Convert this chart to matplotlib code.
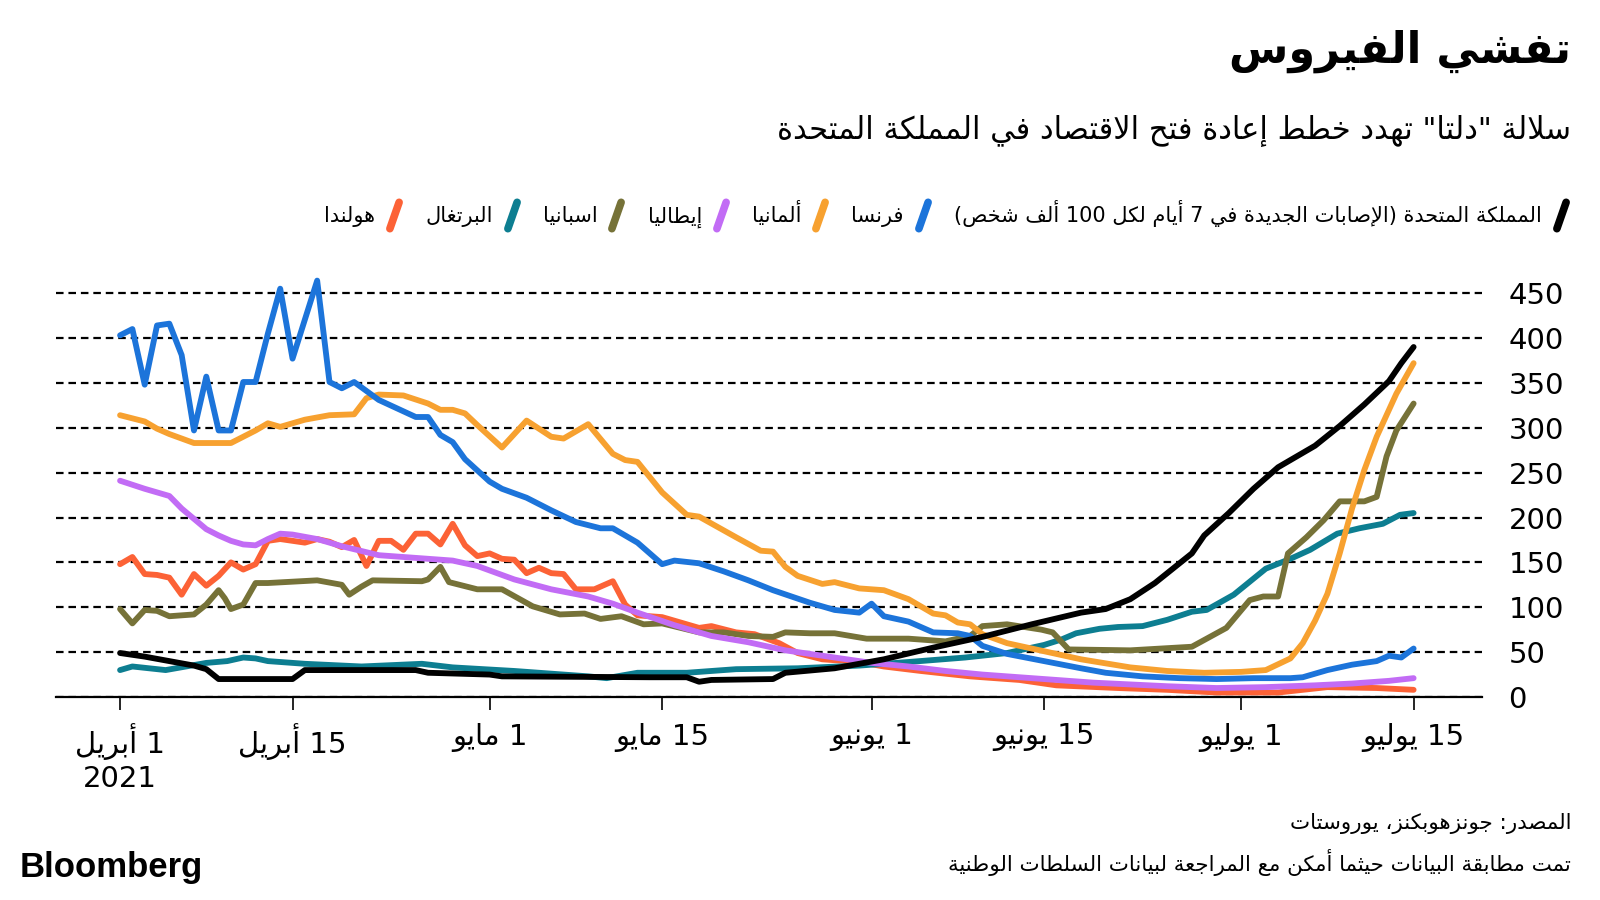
import re
import numpy as np
import pandas as pd
import matplotlib
matplotlib.use("Agg")
from matplotlib import pyplot as plt
from matplotlib.lines import Line2D
from matplotlib.markers import MarkerStyle
from matplotlib.path import Path

# matplotlib does no Arabic shaping, so map letters to presentation forms
# and put them in visual (right to left) order ourselves
RIGHT_JOIN = {'\u0622': 0xFE81, '\u0623': 0xFE83, '\u0624': 0xFE85, '\u0625': 0xFE87,
              '\u0627': 0xFE8D, '\u0629': 0xFE93, '\u062F': 0xFEA9, '\u0630': 0xFEAB,
              '\u0631': 0xFEAD, '\u0632': 0xFEAF, '\u0648': 0xFEED, '\u0649': 0xFEEF}
DUAL_JOIN = {'\u0626': 0xFE89, '\u0628': 0xFE8F, '\u062A': 0xFE95, '\u062B': 0xFE99,
             '\u062C': 0xFE9D, '\u062D': 0xFEA1, '\u062E': 0xFEA5, '\u0633': 0xFEB1,
             '\u0634': 0xFEB5, '\u0635': 0xFEB9, '\u0636': 0xFEBD, '\u0637': 0xFEC1,
             '\u0638': 0xFEC5, '\u0639': 0xFEC9, '\u063A': 0xFECD, '\u0641': 0xFED1,
             '\u0642': 0xFED5, '\u0643': 0xFED9, '\u0644': 0xFEDD, '\u0645': 0xFEE1,
             '\u0646': 0xFEE5, '\u0647': 0xFEE9, '\u064A': 0xFEF1}
LAM_ALEF = {'\u0622': 0xFEF5, '\u0623': 0xFEF7, '\u0625': 0xFEF9, '\u0627': 0xFEFB}
MIRROR = {'(': ')', ')': '('}


def shape_line(text):
    tokens = []
    i = 0
    while i < len(text):
        ch = text[i]
        if ch == '\u0644' and i + 1 < len(text) and text[i + 1] in LAM_ALEF:
            tokens.append(('LA', text[i + 1]))
            i += 2
        else:
            tokens.append(('CH', ch))
            i += 1

    def joinable(t):
        return t[0] == 'LA' or t[1] in RIGHT_JOIN or t[1] in DUAL_JOIN

    def dual(t):
        return t[0] == 'CH' and t[1] in DUAL_JOIN

    out = []
    for k, t in enumerate(tokens):
        prev_ok = k > 0 and dual(tokens[k - 1]) and joinable(t)
        next_ok = dual(t) and k + 1 < len(tokens) and joinable(tokens[k + 1])
        if t[0] == 'LA':
            out.append(chr(LAM_ALEF[t[1]] + int(prev_ok)))
        elif t[1] in DUAL_JOIN:
            if prev_ok and next_ok:
                off = 3
            elif prev_ok:
                off = 1
            elif next_ok:
                off = 2
            else:
                off = 0
            out.append(chr(DUAL_JOIN[t[1]] + off))
        elif t[1] in RIGHT_JOIN:
            out.append(chr(RIGHT_JOIN[t[1]] + int(prev_ok)))
        else:
            out.append(t[1])
    s = ''.join(out)
    parts = re.split(r'([0-9A-Za-z]+)', s)
    vis = []
    for p in reversed(parts):
        if re.fullmatch(r'[0-9A-Za-z]+', p):
            vis.append(p)
        else:
            vis.append(''.join(MIRROR.get(c, c) for c in reversed(p)))
    return ''.join(vis)


def ar(text):
    return '\n'.join(shape_line(l) for l in text.split('\n'))


# ---- data: days after 1 April 2021, new cases in 7 days per 100k ----
uk_days = [0, 2, 4, 6, 7, 8, 14, 15, 24, 25, 30, 31, 43, 46, 47, 48, 53, 54, 58, 62, 66, 70,
           74, 78, 80, 82, 84, 85, 87, 88, 90, 92, 94, 95, 97, 99, 101, 103, 104, 105]
uk_vals = [49, 45, 40, 35, 31, 20, 20, 30, 30, 27, 25, 23, 22, 22, 17, 19, 20, 27, 32, 42, 55, 67,
           81, 94, 98, 109, 127, 138, 160, 180, 205, 232, 256, 264, 280, 302, 326, 352, 372, 390]

fr_days = [0, 1, 2, 3, 4, 5, 6, 7, 8, 9, 10, 11, 12, 13, 14, 16, 17, 18, 19, 21, 24, 25, 26, 27,
           28, 30, 31, 33, 35, 37, 39, 40, 42, 44, 45, 47, 49, 51, 53, 56, 58, 60, 61, 62, 64, 66,
           68, 69, 70, 72, 75, 78, 80, 83, 86, 89, 92, 95, 96, 98, 100, 102, 103, 104, 105]
fr_vals = [403, 410, 348, 414, 416, 381, 297, 357, 297, 297, 351, 351, 405, 455, 377, 464, 351,
           344, 351, 331, 312, 312, 292, 284, 265, 240, 232, 222, 208, 195, 188, 188, 172, 148,
           152, 149, 140, 130, 119, 105, 97, 94, 104, 90, 84, 72, 71, 68, 57, 48, 40, 32, 27, 23,
           21, 20, 21, 21, 22, 30, 36, 40, 46, 44, 54]

de_days = [0, 2, 3, 4, 5, 6, 8, 9, 10, 11, 12, 13, 15, 17, 19, 20, 21, 23, 25, 26, 27, 28, 29,
           31, 33, 35, 36, 38, 40, 41, 42, 44, 46, 47, 50, 52, 53, 54, 55, 57, 58, 60, 62, 64,
           66, 67, 68, 69, 70, 72, 75, 78, 82, 85, 88, 91, 93, 95, 96, 97, 98, 99, 100, 101,
           102, 103.6, 105]
de_vals = [314, 307, 299, 293, 288, 283, 283, 283, 290, 297, 305, 301, 309, 314, 315, 333, 337,
           336, 327, 320, 320, 316, 303, 278, 308, 290, 288, 304, 271, 264, 262, 228, 203, 201,
           178, 163, 162, 145, 135, 126, 128, 121, 119, 109, 93, 91, 83, 81, 70, 60, 51, 42, 33,
           29, 27, 28, 30, 43, 60, 85, 115, 160, 210, 253, 290, 338, 372]

it_days = [0, 2, 4, 5, 7, 8, 9, 10, 11, 12, 13, 14, 16, 18, 21, 24, 27, 29, 32, 35, 38, 40, 42,
           45, 48, 51, 54, 58, 61, 64, 67, 70, 73, 76, 79, 82, 85, 89, 93, 97, 100, 103, 105]
it_vals = [241, 232, 224, 210, 187, 180, 174, 170, 169, 176, 182, 181, 176, 168, 158, 155, 152,
           146, 131, 120, 112, 104, 94, 80, 68, 61, 52, 44, 38, 34, 29, 25, 22, 19, 16, 14, 12,
           10, 11, 13, 15, 18, 21]

es_days = [0, 1, 2, 3, 4, 6, 7, 8, 8.5, 9, 10, 11, 12, 16, 18, 18.6, 19.6, 20.5, 24.5, 25, 26,
           26.7, 29, 31, 33.5, 35.7, 37.7, 39, 40.7, 42.5, 44, 47, 49, 51, 53, 54, 56, 58, 60.6,
           64, 67, 69, 70, 72, 74.8, 75.7, 77, 82, 87, 89.8, 91.7, 92.8, 94, 94.8, 96.3, 97.7,
           99, 101, 102, 102.8, 103.6, 105]
es_vals = [98, 82, 97, 96, 90, 92, 103, 119, 110, 98, 103, 127, 127, 130, 125, 114, 123, 130,
           129, 131, 145, 128, 120, 120, 101, 92, 93, 87, 90, 81, 82, 72, 72, 68, 67, 72, 71, 71,
           65, 65, 62, 68, 79, 81, 75, 72, 53, 52, 56, 77, 108, 112, 112, 160, 178, 197, 218,
           218, 223, 268, 297, 327]

pt_days = [0, 1, 3.7, 7, 8.7, 10, 11, 12, 15, 19.6, 24.5, 27, 32, 36, 38, 39.5, 42, 46, 50, 55,
           60, 64, 68.6, 72, 75, 76.4, 77.6, 79.5, 81, 83, 85, 87, 88.2, 90.4, 93, 95, 96.6,
           98.8, 100.6, 102.5, 103.9, 105]
pt_vals = [30, 34, 30, 38, 40, 44, 43, 40, 37, 34, 37, 33, 29, 25, 23, 21, 27, 27, 31, 32, 35,
           39, 44, 49, 58, 64, 71, 76, 78, 79, 86, 95, 97, 114, 143, 154, 164, 182, 188, 193,
           203, 205]

nl_days = [0, 1, 2, 3, 4, 5, 6, 7, 8, 9, 10, 11, 12, 13, 15, 16, 17, 18, 19, 20, 21, 22, 23,
           24, 25, 26, 27, 28, 29, 30, 31, 32, 33, 34, 35, 36, 37, 38.5, 40, 41, 42, 44, 47, 48,
           50, 51.5, 53.5, 55, 57, 60, 62, 65, 69, 73, 76, 81, 85, 89, 94, 98, 102, 105]
nl_vals = [148, 156, 137, 136, 133, 114, 137, 124, 135, 150, 142, 148, 174, 176, 172, 176, 173,
           167, 175, 146, 174, 174, 164, 182, 182, 170, 193, 169, 157, 160, 154, 153, 138, 144,
           138, 137, 120, 120, 129, 103, 91, 89, 77, 79, 72, 70, 60, 49, 42, 39, 34, 29, 23, 19,
           13, 10, 8, 5, 5, 11, 10, 8]

series = [
    ('المملكة المتحدة (الإصابات الجديدة في 7 أيام لكل 100 ألف شخص)', uk_days, uk_vals, '#000000'),
    ('فرنسا', fr_days, fr_vals, '#1C74DA'),
    ('ألمانيا', de_days, de_vals, '#F7A130'),
    ('إيطاليا', it_days, it_vals, '#C26CF5'),
    ('اسبانيا', es_days, es_vals, '#767238'),
    ('البرتغال', pt_days, pt_vals, '#0D7E91'),
    ('هولندا', nl_days, nl_vals, '#FC6236'),
]

start = pd.Timestamp('2021-04-01')
tick_days = [0, 14, 30, 44, 61, 75, 91, 105]
tick_labels = ['1 أبريل\n2021', '15 أبريل', '1 مايو', '15 مايو', '1 يونيو', '15 يونيو',
               '1 يوليو', '15 يوليو']
y_ticks = [0, 50, 100, 150, 200, 250, 300, 350, 400, 450]

title = 'تفشي الفيروس'
subtitle = 'سلالة "دلتا" تهدد خطط إعادة فتح الاقتصاد في المملكة المتحدة'
source = 'المصدر: جونزهوبكنز، يوروستات'
note = 'تمت مطابقة البيانات حيثما أمكن مع المراجعة لبيانات السلطات الوطنية'

plt.rcParams['font.family'] = ['DejaVu Sans']

fig = plt.figure(figsize=(16, 9), dpi=100)
ax = fig.add_axes([56 / 1600, 1 - 697 / 900, (1482 - 56) / 1600, (697 - 277) / 900])

# draw back to front so the UK line sits on top
for name, days, vals, col in reversed(series):
    x = start + pd.to_timedelta(np.array(days, dtype=float), unit='D')
    ax.plot(x, vals, color=col, lw=4.2, solid_capstyle='round', solid_joinstyle='round',
            zorder=3)

ax.set_ylim(0, 468)
ax.set_xlim(start - pd.Timedelta(days=5.2), start + pd.Timedelta(days=110.55))
ax.set_yticks(y_ticks)
ax.yaxis.tick_right()
ax.tick_params(axis='y', length=0, pad=19, labelsize=21)
ax.set_xticks([start + pd.Timedelta(days=d) for d in tick_days])
ax.set_xticklabels([ar(t) for t in tick_labels])
ax.tick_params(axis='x', length=9, width=1.2, direction='out', pad=10, labelsize=21)
ax.grid(axis='y', color='black', lw=1.6, linestyle=(0, (3.4, 2.2)), zorder=1)
ax.set_axisbelow(True)
for s in ['top', 'left', 'right']:
    ax.spines[s].set_visible(False)
ax.spines['bottom'].set_linewidth(1.6)
ax.spines['bottom'].set_zorder(4)

# legend, right to left
slash = MarkerStyle(Path([(-0.35, -1), (0.35, 1)], [Path.MOVETO, Path.LINETO]),
                    capstyle='round')
handles = [Line2D([], [], color=c, lw=0, marker=slash, markersize=19, markeredgewidth=5.5,
                  markeredgecolor=c) for _, _, _, c in series]
labels = [ar(n) for n, _, _, _ in series]
fig.legend(handles[::-1], labels[::-1], loc='center right', bbox_to_anchor=(1571 / 1600, 1 - 214 / 900),
           ncol=7, frameon=False, markerfirst=False, fontsize=15, handlelength=1.0,
           handletextpad=0.4, columnspacing=1.0, borderpad=0, borderaxespad=0)

fig.text(1571 / 1600, 1 - 51 / 900, ar(title), ha='right', va='center', fontsize=31,
         fontweight='bold')
fig.text(1571 / 1600, 1 - 130 / 900, ar(subtitle), ha='right', va='center', fontsize=22)
fig.text(1571 / 1600, 1 - 824 / 900, ar(source), ha='right', va='center', fontsize=15.4)
fig.text(1571 / 1600, 1 - 862 / 900, ar(note), ha='right', va='center', fontsize=15.4)
fig.text(20 / 1600, 1 - 867 / 900, 'Bloomberg', ha='left', va='center', fontsize=25,
         fontweight='bold', family='Liberation Sans')

plt.savefig('out.png', dpi=100)
